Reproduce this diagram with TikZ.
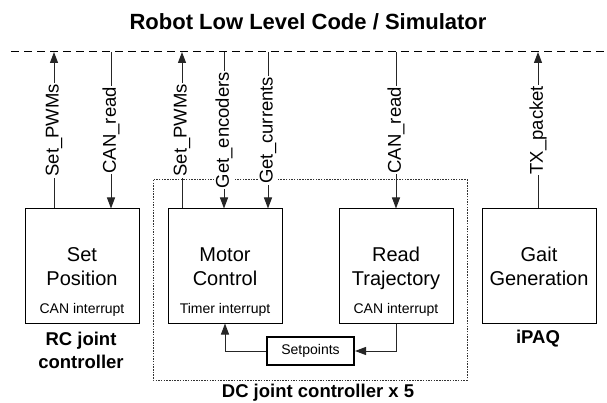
\documentclass[tikz,border=0pt]{standalone}
\usepackage{fontspec}
\setmainfont{Liberation Sans}
\usetikzlibrary{arrows.meta}
\begin{document}
\begin{tikzpicture}[x=1pt,y=-1pt,
  blk/.style={draw=black,line width=1pt,minimum width=114pt,minimum height=114pt,inner sep=0pt},
  bigtxt/.style={font=\fontsize{20}{24}\selectfont,anchor=base,inner sep=0pt},
  smalltxt/.style={font=\fontsize{14}{16}\selectfont,anchor=base,inner sep=0pt},
  captxt/.style={font=\fontsize{18.5}{23}\selectfont\bfseries,anchor=base,inner sep=0pt},
  lbl/.style={font=\fontsize{18.5}{22}\selectfont,rotate=90,fill=white,inner sep=1pt},
  conn/.style={draw=black!85,line width=1pt},
  arr/.style={conn,-{Triangle[length=11pt,width=8pt]}},
  bus/.style={draw=black,line width=1pt,dash pattern=on 8pt off 5pt},
  grp/.style={draw=black!80,line width=1pt,dash pattern=on 1.5pt off 1.2pt},
  spbox/.style={draw=black,line width=2pt,minimum width=87pt,minimum height=28pt,inner sep=0pt,font=\fontsize{14}{16}\selectfont}]
\useasboundingbox (0,0) rectangle (607,403);
\fill[white] (0,0) rectangle (607,403);

% title
\node[font=\fontsize{22}{26}\selectfont\bfseries,anchor=base,inner sep=0pt] (title) at (308,30) {Robot Low Level Code / Simulator};

% bus
\coordinate (busL) at (11,52);
\coordinate (busR) at (607,52);
\draw[bus] (busL) -- (busR);

% group box
\draw[grp] (153,180) rectangle (467,380);

% boxes
\node[blk] (sp) at (82,266) {};
\node[blk] (mc) at (225,266) {};
\node[blk] (rt) at (396,266) {};
\node[blk] (gg) at (539,266) {};

\node[bigtxt] (sp1) at (82,261) {Set};
\node[bigtxt] (sp2) at (82,285) {Position};
\node[smalltxt] (sp3) at (82,313) {CAN interrupt};
\node[bigtxt] (mc1) at (225,261) {Motor};
\node[bigtxt] (mc2) at (225,285) {Control};
\node[smalltxt] (mc3) at (225,313) {Timer interrupt};
\node[bigtxt] (rt1) at (396,261) {Read};
\node[bigtxt] (rt2) at (396,285) {Trajectory};
\node[smalltxt] (rt3) at (396,313) {CAN interrupt};
\node[bigtxt] (gg1) at (539,261) {Gait};
\node[bigtxt] (gg2) at (539,285) {Generation};

% setpoints
\node[spbox] (setp) at (310.5,351) {Setpoints};
\draw[arr] (rt.south) |- (setp.east);
\draw[arr] (setp.west) -| (mc.south);

% bus coordinates
\coordinate (b1) at (54,52);
\coordinate (b2) at (111,52);
\coordinate (b3) at (182,52);
\coordinate (b4) at (224,52);
\coordinate (b5) at (268,52);
\coordinate (b6) at (396,52);
\coordinate (b7) at (538,52);

\draw[arr] (b1 |- sp.north) -- node[lbl] (l1) {Set\_PWMs} (b1);
\draw[arr] (b2) -- node[lbl] (l2) {CAN\_read} (b2 |- sp.north);
\draw[arr] (b3 |- mc.north) -- node[lbl] (l3) {Set\_PWMs} (b3);
\draw[arr] (b4) -- node[lbl] (l4) {Get\_encoders} (b4 |- mc.north);
\draw[arr] (b5) -- node[lbl] (l5) {Get\_currents} (b5 |- mc.north);
\draw[arr] (b6) -- node[lbl] (l6) {CAN\_read} (b6 |- rt.north);
\draw[arr] (b7 |- gg.north) -- node[lbl] (l7) {TX\_packet} (b7);

% captions
\node[captxt] (c1) at (81,345) {RC joint};
\node[captxt] (c2) at (81,368) {controller};
\node[captxt] (c3) at (538,343) {iPAQ};
\node[captxt] (c4) at (318,397) {DC joint controller x 5};
\end{tikzpicture}
\end{document}
